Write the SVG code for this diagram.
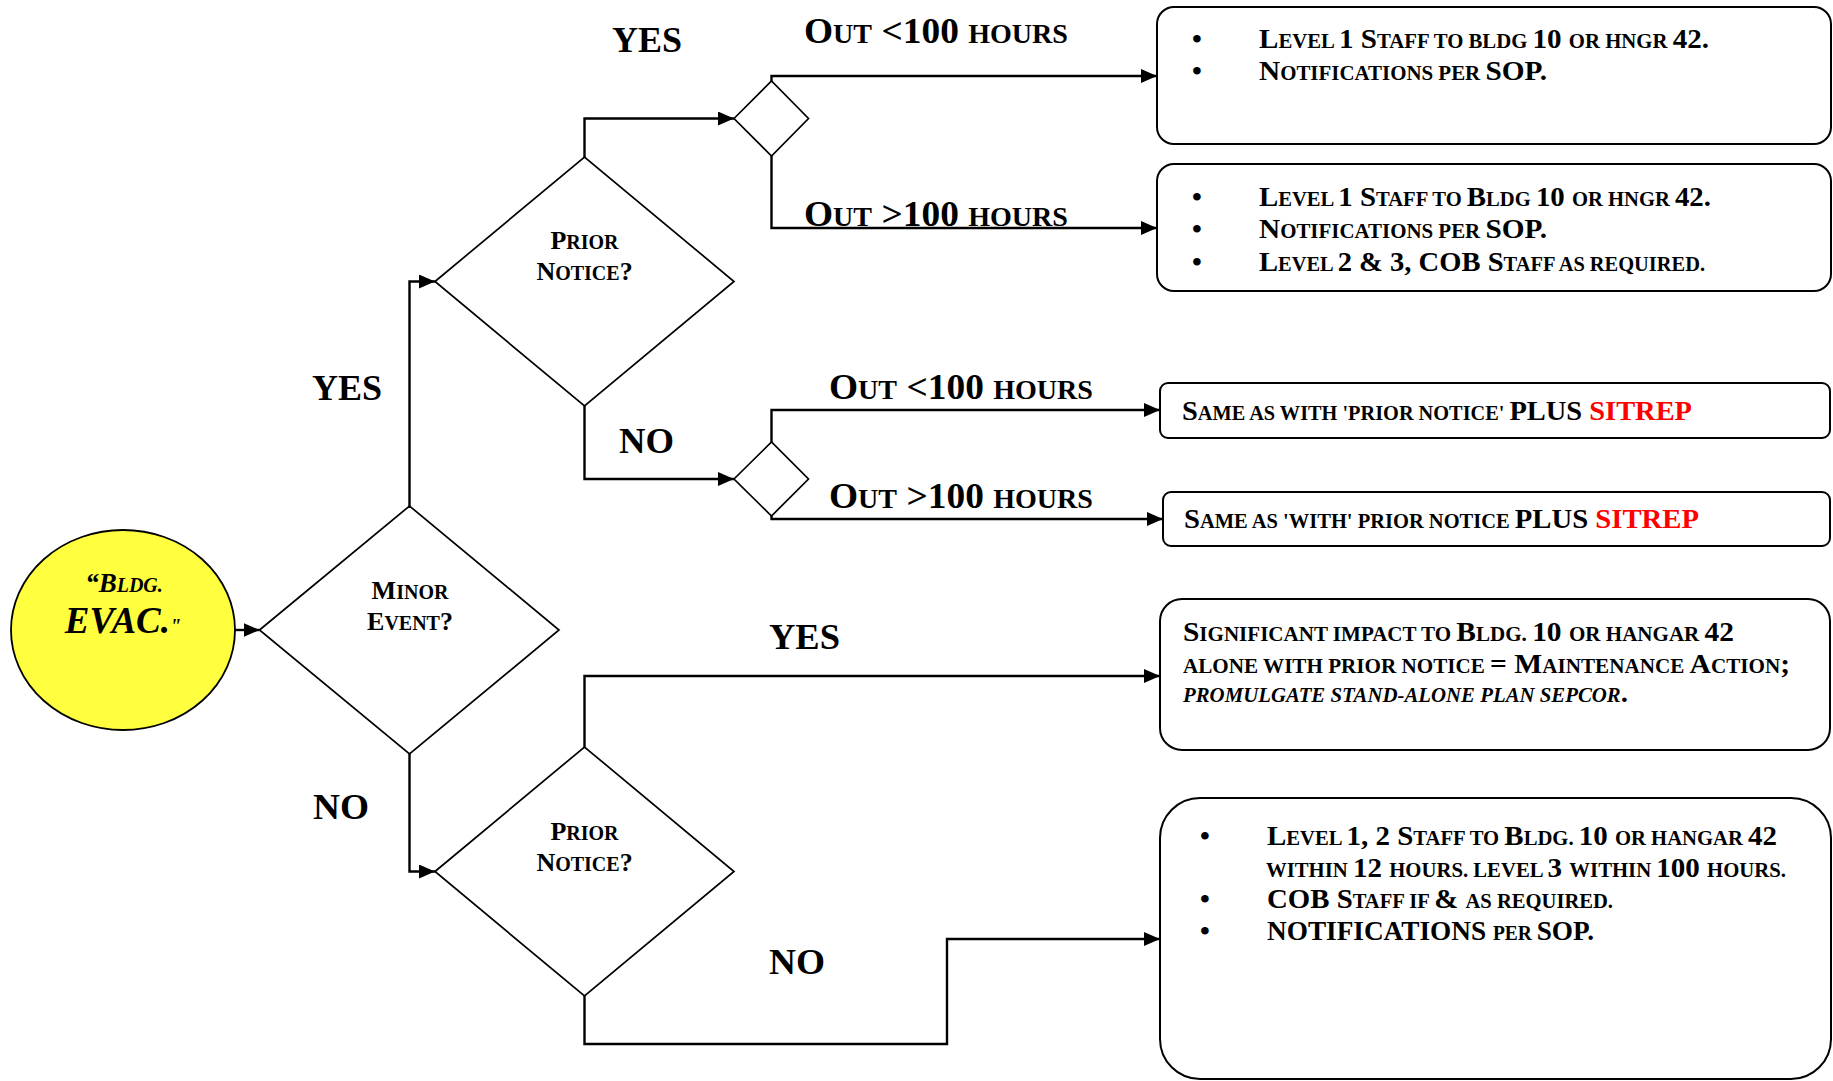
<svg xmlns="http://www.w3.org/2000/svg" width="1833" height="1081" viewBox="0 0 1833 1081">
  <defs>
    <marker id="arrow" markerUnits="userSpaceOnUse" markerWidth="16" markerHeight="14" refX="16" refY="7" orient="auto">
      <path d="M0,0 L16,7 L0,14 Z" fill="#000"/>
    </marker>
    <style>
      .conn { fill: none; stroke: #000; stroke-width: 2.4; marker-end: url(#arrow); }
      .dia { fill: #fff; stroke: #000; stroke-width: 1.7; }
      .box { fill: #fff; stroke: #000; stroke-width: 2; }
      .t { font-family: "Liberation Serif", "Times New Roman", serif; font-weight: bold; fill: #000; }
      .c { text-anchor: middle; }
      .L { font-size: 36px; }
      .l { font-size: 27px; }
      .B { font-size: 28px; }
      .s { font-size: 20px; }
      .D { font-size: 26px; }
      .d { font-size: 20px; }
      .red { fill: #ff0000; }
      .it { font-style: italic; }
    </style>
  </defs>

  <rect width="1833" height="1081" fill="#fff"/>

  <!-- connectors -->
  <g id="connectors">
    <path class="conn" d="M235,630 H259.5"/>
    <path class="conn" d="M409.5,506 V281.5 H435"/>
    <path class="conn" d="M584.5,157 V118.5 H734"/>
    <path class="conn" d="M771.5,81 V76 H1157"/>
    <path class="conn" d="M771.5,156 V228 H1157"/>
    <path class="conn" d="M584.5,406 V479 H734"/>
    <path class="conn" d="M771.5,442 V410 H1160"/>
    <path class="conn" d="M771.5,516 V519 H1163"/>
    <path class="conn" d="M409.5,754 V871.5 H435"/>
    <path class="conn" d="M584.5,747 V676 H1160"/>
    <path class="conn" d="M584.5,996 V1044 H947 V939 H1160"/>
  </g>

  <!-- branch labels -->
  <g id="labels" class="t">
    <text class="L" x="612" y="52" textLength="70" lengthAdjust="spacingAndGlyphs">YES</text>
    <text x="804" y="43" textLength="264" lengthAdjust="spacingAndGlyphs"><tspan class="L">O</tspan><tspan class="l">UT</tspan><tspan class="L"> &lt;100 </tspan><tspan class="l">HOURS</tspan></text>
    <text x="804" y="226" textLength="264" lengthAdjust="spacingAndGlyphs"><tspan class="L">O</tspan><tspan class="l">UT</tspan><tspan class="L"> &gt;100 </tspan><tspan class="l">HOURS</tspan></text>
    <text class="L" x="312" y="400" textLength="70" lengthAdjust="spacingAndGlyphs">YES</text>
    <text class="L" x="619" y="453" textLength="55" lengthAdjust="spacingAndGlyphs">NO</text>
    <text x="829" y="399" textLength="264" lengthAdjust="spacingAndGlyphs"><tspan class="L">O</tspan><tspan class="l">UT</tspan><tspan class="L"> &lt;100 </tspan><tspan class="l">HOURS</tspan></text>
    <text x="829" y="508" textLength="264" lengthAdjust="spacingAndGlyphs"><tspan class="L">O</tspan><tspan class="l">UT</tspan><tspan class="L"> &gt;100 </tspan><tspan class="l">HOURS</tspan></text>
    <text class="L" x="769" y="649" textLength="71" lengthAdjust="spacingAndGlyphs">YES</text>
    <text class="L" x="313" y="819" textLength="56" lengthAdjust="spacingAndGlyphs">NO</text>
    <text class="L" x="769" y="974" textLength="56" lengthAdjust="spacingAndGlyphs">NO</text>
  </g>

  <!-- start event -->
  <g id="start">
    <ellipse cx="123" cy="630" rx="112" ry="100" fill="#ffff40" stroke="#000" stroke-width="1.8"/>
    <text class="t it c" x="124" y="592"><tspan font-size="27">“B</tspan><tspan font-size="20">LDG.</tspan></text>
    <text class="t it c" x="123" y="633"><tspan font-size="37">EVAC.</tspan><tspan font-size="20">"</tspan></text>
  </g>

  <!-- decision: minor event -->
  <g id="minor-event">
    <polygon class="dia" points="259.5,630 409.5,506 559,630 409.5,754"/>
    <text class="t c" x="410" y="599"><tspan class="D">M</tspan><tspan class="d">INOR</tspan></text>
    <text class="t c" x="410" y="630"><tspan class="D">E</tspan><tspan class="d">VENT</tspan><tspan class="D">?</tspan></text>
  </g>

  <!-- decision: prior notice (minor event = yes) -->
  <g id="prior-notice-yes">
    <polygon class="dia" points="435,281.5 584.5,157 734,281.5 584.5,406"/>
    <text class="t c" x="584.5" y="249"><tspan class="D">P</tspan><tspan class="d">RIOR</tspan></text>
    <text class="t c" x="584.5" y="280"><tspan class="D">N</tspan><tspan class="d">OTICE</tspan><tspan class="D">?</tspan></text>
  </g>

  <!-- decision: prior notice (minor event = no) -->
  <g id="prior-notice-no">
    <polygon class="dia" points="435,871.5 584.5,747 734,871.5 584.5,996"/>
    <text class="t c" x="584.5" y="840"><tspan class="D">P</tspan><tspan class="d">RIOR</tspan></text>
    <text class="t c" x="584.5" y="871"><tspan class="D">N</tspan><tspan class="d">OTICE</tspan><tspan class="D">?</tspan></text>
  </g>

  <!-- small branch points -->
  <g id="split-notice">
    <polygon class="dia" points="734,118.5 771.5,81 808.5,118.5 771.5,156"/>
  </g>
  <g id="split-no-notice">
    <polygon class="dia" points="734,479 771.5,442 808.5,479 771.5,516"/>
  </g>

  <!-- outcome: prior notice, out < 100 hours -->
  <g id="outcome-notice-short">
    <rect class="box" x="1157" y="7" width="674" height="137" rx="17"/>
    <text class="t B c" x="1197" y="48">•</text>
    <text class="t B c" x="1197" y="80">•</text>
    <text class="t" x="1259" y="48" textLength="450" lengthAdjust="spacingAndGlyphs"><tspan class="B">L</tspan><tspan class="s">EVEL </tspan><tspan class="B">1 S</tspan><tspan class="s">TAFF TO BLDG </tspan><tspan class="B">10 </tspan><tspan class="s">OR HNGR </tspan><tspan class="B">42.</tspan></text>
    <text class="t" x="1259" y="80" textLength="288" lengthAdjust="spacingAndGlyphs"><tspan class="B">N</tspan><tspan class="s">OTIFICATIONS PER </tspan><tspan class="B">SOP.</tspan></text>
  </g>

  <!-- outcome: prior notice, out > 100 hours -->
  <g id="outcome-notice-long">
    <rect class="box" x="1157" y="164" width="674" height="127" rx="17"/>
    <text class="t B c" x="1197" y="206">•</text>
    <text class="t B c" x="1197" y="238">•</text>
    <text class="t B c" x="1197" y="271">•</text>
    <text class="t" x="1259" y="206" textLength="452" lengthAdjust="spacingAndGlyphs"><tspan class="B">L</tspan><tspan class="s">EVEL </tspan><tspan class="B">1 S</tspan><tspan class="s">TAFF TO </tspan><tspan class="B">B</tspan><tspan class="s">LDG </tspan><tspan class="B">10 </tspan><tspan class="s">OR HNGR </tspan><tspan class="B">42.</tspan></text>
    <text class="t" x="1259" y="238" textLength="288" lengthAdjust="spacingAndGlyphs"><tspan class="B">N</tspan><tspan class="s">OTIFICATIONS PER </tspan><tspan class="B">SOP.</tspan></text>
    <text class="t" x="1259" y="271" textLength="446" lengthAdjust="spacingAndGlyphs"><tspan class="B">L</tspan><tspan class="s">EVEL </tspan><tspan class="B">2 &amp; 3, COB S</tspan><tspan class="s">TAFF AS REQUIRED.</tspan></text>
  </g>

  <!-- outcome: no prior notice, out < 100 hours -->
  <g id="outcome-nonotice-short">
    <rect class="box" x="1160" y="383" width="670" height="55" rx="8"/>
    <text class="t" x="1182" y="420" textLength="510" lengthAdjust="spacingAndGlyphs"><tspan class="B">S</tspan><tspan class="s">AME AS WITH 'PRIOR NOTICE' </tspan><tspan class="B">PLUS </tspan><tspan class="B red">SITREP</tspan></text>
  </g>

  <!-- outcome: no prior notice, out > 100 hours -->
  <g id="outcome-nonotice-long">
    <rect class="box" x="1163" y="492" width="667" height="54" rx="8"/>
    <text class="t" x="1184" y="528" textLength="515" lengthAdjust="spacingAndGlyphs"><tspan class="B">S</tspan><tspan class="s">AME AS 'WITH' PRIOR NOTICE </tspan><tspan class="B">PLUS </tspan><tspan class="B red">SITREP</tspan></text>
  </g>

  <!-- outcome: not minor, prior notice -->
  <g id="outcome-major-notice">
    <rect class="box" x="1160" y="599" width="670" height="151" rx="22"/>
    <text class="t" x="1183" y="641" textLength="551" lengthAdjust="spacingAndGlyphs"><tspan class="B">S</tspan><tspan class="s">IGNIFICANT IMPACT TO </tspan><tspan class="B">B</tspan><tspan class="s">LDG. </tspan><tspan class="B">10 </tspan><tspan class="s">OR HANGAR </tspan><tspan class="B">42</tspan></text>
    <text class="t" x="1183" y="673" textLength="607" lengthAdjust="spacingAndGlyphs"><tspan class="s">ALONE WITH PRIOR NOTICE </tspan><tspan class="B">= M</tspan><tspan class="s">AINTENANCE </tspan><tspan class="B">A</tspan><tspan class="s">CTION</tspan><tspan class="B">;</tspan></text>
    <text class="t" x="1183" y="702" textLength="445" lengthAdjust="spacingAndGlyphs"><tspan class="s it">PROMULGATE STAND-ALONE PLAN SEPCOR</tspan><tspan class="B">.</tspan></text>
  </g>

  <!-- outcome: not minor, no prior notice -->
  <g id="outcome-major-nonotice">
    <rect class="box" x="1160" y="798" width="671" height="281" rx="40"/>
    <text class="t B c" x="1205" y="845">•</text>
    <text class="t B c" x="1205" y="908">•</text>
    <text class="t B c" x="1205" y="940">•</text>
    <text class="t" x="1267" y="845" textLength="510" lengthAdjust="spacingAndGlyphs"><tspan class="B">L</tspan><tspan class="s">EVEL </tspan><tspan class="B">1, 2 S</tspan><tspan class="s">TAFF TO </tspan><tspan class="B">B</tspan><tspan class="s">LDG. </tspan><tspan class="B">10 </tspan><tspan class="s">OR HANGAR </tspan><tspan class="B">42</tspan></text>
    <text class="t" x="1266" y="877" textLength="520" lengthAdjust="spacingAndGlyphs"><tspan class="s">WITHIN </tspan><tspan class="B">12 </tspan><tspan class="s">HOURS. LEVEL </tspan><tspan class="B">3 </tspan><tspan class="s">WITHIN </tspan><tspan class="B">100 </tspan><tspan class="s">HOURS.</tspan></text>
    <text class="t" x="1267" y="908" textLength="346" lengthAdjust="spacingAndGlyphs"><tspan class="B">COB S</tspan><tspan class="s">TAFF IF </tspan><tspan class="B">&amp; </tspan><tspan class="s">AS REQUIRED.</tspan></text>
    <text class="t" x="1267" y="940" textLength="327" lengthAdjust="spacingAndGlyphs"><tspan class="B">NOTIFICATIONS </tspan><tspan class="s">PER </tspan><tspan class="B">SOP.</tspan></text>
  </g>
</svg>
